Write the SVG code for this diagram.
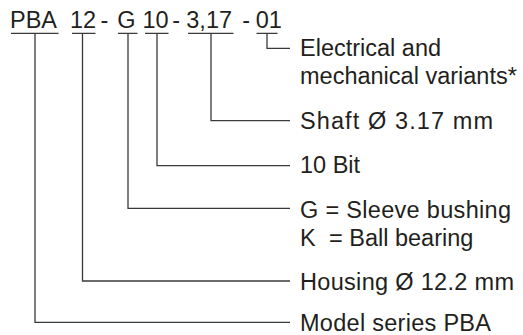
<svg xmlns="http://www.w3.org/2000/svg" width="523" height="335" viewBox="0 0 523 335">
<style>
text{font-family:"Liberation Sans",Arial,Helvetica,sans-serif;font-size:23.5px;fill:#231f20}
.c{fill:none;stroke:#3a3a3a;stroke-width:1.3}
</style>
<rect width="523" height="335" fill="#fff"/>
<g id="code">
<text x="10" y="28">PBA</text>
<text x="70" y="28">12</text>
<text x="100.6" y="28">-</text>
<text x="117.2" y="28">G</text>
<text x="142.4" y="28">10</text>
<text x="172.3" y="28">-</text>
<text x="186.3" y="28">3,17</text>
<text x="242.3" y="28">-</text>
<text x="255.7" y="28">01</text>
</g>
<g id="connectors">
<path class="c" d="M11 33.3H58.5M35 33.3V322.3H290"/>
<path class="c" d="M72 33.3H95.5M82.5 33.3V281H290"/>
<path class="c" d="M118 33.3H137.5M128 33.3V208.3H290"/>
<path class="c" d="M145 33.3H168.5M157 33.3V165.7H290"/>
<path class="c" d="M188 33.3H233.5M211 33.3V120.7H290"/>
<path class="c" d="M256.5 33.3H277.5M267 33.3V48.3H290"/>
</g>
<g id="variants"><text x="300" y="55.5">Electrical and</text><text x="300" y="83.5">mechanical variants*</text></g>
<g id="shaft"><text x="300" y="128.5" textLength="193" lengthAdjust="spacing">Shaft Ø 3.17 mm</text></g>
<g id="resolution"><text x="300" y="173">10 Bit</text></g>
<g id="bearing"><text x="300" y="217.5" textLength="211" lengthAdjust="spacing">G = Sleeve bushing</text><text x="300" y="246">K</text><text x="329" y="246">= Ball bearing</text></g>
<g id="housing"><text x="300" y="290" textLength="214" lengthAdjust="spacing">Housing Ø 12.2 mm</text></g>
<g id="series"><text x="300" y="330.5" textLength="191" lengthAdjust="spacing">Model series PBA</text></g>
</svg>
